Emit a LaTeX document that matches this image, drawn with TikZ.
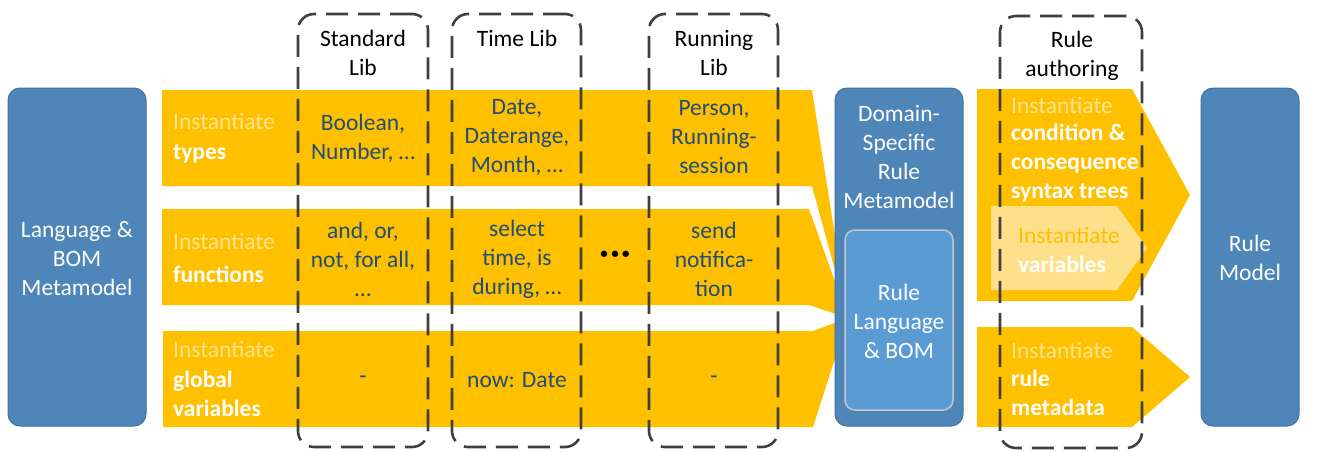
\documentclass[tikz,border=0pt]{standalone}
\usepackage{fontspec}
\setmainfont{Carlito}
\definecolor{boxblue}{HTML}{4E86BA}
\definecolor{boxedge}{HTML}{41719C}
\definecolor{innerblue}{HTML}{5B9BD5}
\definecolor{gold}{HTML}{FFC000}
\definecolor{paleY}{HTML}{FFE38F}
\definecolor{lightarrow}{HTML}{FFE08A}
\definecolor{navy}{HTML}{1F4E79}
\definecolor{dashgrey}{HTML}{3F3F3F}
\begin{document}
\begin{tikzpicture}[x=1pt,y=-1pt,
  fs/.style={font=\fontsize{23.5}{29}\selectfont},
  fsb/.style={font=\fontsize{23.5}{29}\selectfont\bfseries},
  bluebox/.style={draw=boxedge, fill=boxblue, rounded corners=12pt, line width=1pt, inner sep=0},
  whitetxt/.style={fs, text=white, align=center, inner sep=0},
  libbox/.style={draw=dashgrey, line width=2.6pt, rounded corners=16pt, dash pattern=on 22pt off 10pt, minimum height=433pt, inner sep=0},
  head/.style={fs, text=black, align=center, inner sep=0},
  libtxt/.style={fs, text=navy, align=center, inner sep=0},
  inst/.style={fs, text=paleY, anchor=west, inner sep=0},
  boldw/.style={fsb, text=white, anchor=west, align=left, inner sep=0},
]
\useasboundingbox (0,0) rectangle (1341,451);

% left box
\node (lang) [bluebox, minimum width=138pt, minimum height=338pt] at (77,257) {};
\node (langt) [whitetxt] at (77,259) {Language \&\\BOM\\Metamodel};

% converging point
\coordinate (tip) at (848,318);

% yellow bands
\fill[gold] (162,90) -- (812,90) -- (tip) -- (812,186) -- (162,186) -- cycle;
\fill[gold] (162,209) -- (809,209) -- (tip) -- (809,305) -- (162,305) -- cycle;
\fill[gold] (163,331) -- (813,331) -- (tip) -- (813,427) -- (163,427) -- cycle;

% band labels
\node (i1) [inst] at (173,121) {Instantiate};
\node (b1) [boldw] at (173,154) {types};
\node (i2) [inst] at (173,241) {Instantiate};
\node (b2) [boldw] at (173,274) {functions};
\node (i3) [inst] at (173,349) {Instantiate};
\node (b3) [boldw] at (173,394) {global\\variables};

% library contents
\node (s1) [libtxt] at (363,138) {Boolean,\\Number, …};
\node (s2) [libtxt] at (363,259) {and, or,\\not, for all,\\…};
\node (s3) [libtxt] at (363,380) {-};
\node (t1) [libtxt] at (517,137) {Date,\\Daterange,\\Month, …};
\node (t2) [libtxt] at (517,259) {select\\time, is\\during, …};
\node (t3) [libtxt] at (517,380) {now: Date};
\node (r1) [libtxt] at (714,137) {Person,\\Running-\\session};
\node (r2) [libtxt] at (714,259) {send\\notifica-\\tion};
\node (r3) [libtxt] at (714,380) {-};
\node (dots) [font=\fontsize{15}{15}\selectfont\bfseries, inner sep=0] at (615,255) {•\kern3.5pt•\kern3.5pt•};

% dashed library boxes
\node (std) [libbox, minimum width=130pt] at (363,230.5) {};
\node (tim) [libbox, minimum width=129pt] at (516.5,230.5) {};
\node (run) [libbox, minimum width=129pt] at (713.5,230.5) {};
\node (stdh) [head] at (363,52.5) {Standard\\Lib};
\node (timh) [head] at (517,38) {Time Lib};
\node (runh) [head] at (714,52.5) {Running\\Lib};

% domain-specific metamodel
\node (dsrm) [bluebox, minimum width=128pt, minimum height=338pt] at (899,257) {};
\node (dsrmt) [whitetxt] at (899,157) {Domain-\\Specific\\Rule\\Metamodel};
\node (rlb) [draw=black!22, line width=1.5pt, fill=innerblue, rounded corners=10pt, minimum width=108pt, minimum height=180pt, inner sep=0] at (899,320) {};
\node (rlbt) [whitetxt] at (899,321.5) {Rule\\Language\\\& BOM};

% right arrows
\fill[gold] (977,89) -- (1132,89) -- (1190,195) -- (1132,301) -- (977,301) -- cycle;
\fill[lightarrow] (991,206) -- (1117,206) -- (1147,248) -- (1117,290) -- (991,290) -- cycle;
\fill[gold] (977,327) -- (1132,327) -- (1190,377) -- (1132,427) -- (977,427) -- cycle;

\node (ia) [inst] at (1011,105) {Instantiate};
\node (ba) [boldw] at (1011,163) {condition \&\\consequence\\syntax trees};
\node (iv) [inst, text=gold] at (1018,235) {Instantiate};
\node (bv) [boldw] at (1018,264) {variables};
\node (ib) [inst] at (1011,350) {Instantiate};
\node (bb) [boldw] at (1011,393) {rule\\metadata};

\node (auth) [libbox, minimum width=142pt, minimum height=432pt] at (1071,232) {};
\node (authh) [head] at (1072,55.5) {Rule\\authoring};

% rule model
\node (rm) [bluebox, minimum width=98pt, minimum height=338pt] at (1250,257) {};
\node (rmt) [whitetxt] at (1250,258) {Rule\\Model};
\end{tikzpicture}
\end{document}
